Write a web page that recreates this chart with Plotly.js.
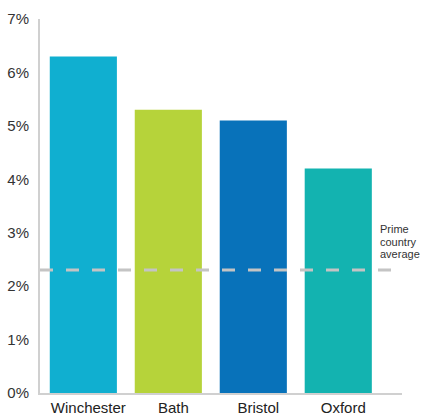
<!DOCTYPE html>
<html><head><meta charset="utf-8">
<script src="https://cdn.plot.ly/plotly-3.0.1.min.js"></script>
<style>html,body{margin:0;padding:0;background:#fff;}#chart{width:423px;height:415px;}</style>
</head><body><div id="chart"></div>
<script>
const cities = ["Winchester", "Bath", "Bristol", "Oxford"];
const growth = [6.3, 5.3, 5.1, 4.2];
const barColors = ["#10AFD0", "#B6D33A", "#0872BA", "#13B3B0"];
const primeAverage = 2.3;
const averageLabel = ["Prime", "country", "average"];
const yTicks = [0, 1, 2, 3, 4, 5, 6, 7];
const yTickText = yTicks.map(v => v + "%");

const trace = {
  type: "bar", x: cities, y: growth,
  marker: {color: barColors},
  hoverinfo: "x+y"
};

const labelAnns = averageLabel.map((t, i) => ({
  text: t, xref: "paper", yref: "y", x: 0.934, y: primeAverage,
  xanchor: "left", yanchor: "bottom", showarrow: false,
  yshift: 8 + (averageLabel.length - 1 - i) * 12.4,
  font: {family: "Liberation Sans, Arial, sans-serif", size: 11, color: "#333"},
  align: "left"
}));

const layout = {
  width: 423, height: 415,
  margin: {l: 40, r: 21, t: 19, b: 22},
  paper_bgcolor: "#fff", plot_bgcolor: "#fff",
  font: {family: "Liberation Sans, Arial, sans-serif", color: "#333"},
  showlegend: false,
  bargap: 0.21,
  xaxis: {
    range: [-0.51, 3.75], showgrid: false, zeroline: false,
    showline: true, linecolor: "#d0d0d0", linewidth: 2,
    ticks: "", ticklabelshift: 5,
    tickfont: {size: 15, color: "#222"}, fixedrange: true
  },
  yaxis: {
    range: [0, 7], tickvals: yTicks, ticktext: yTickText,
    showgrid: false, zeroline: false,
    showline: true, linecolor: "#d0d0d0", linewidth: 2,
    ticks: "outside", ticklen: 6, tickcolor: "rgba(0,0,0,0)",
    tickfont: {size: 15, color: "#333"}, fixedrange: true
  },
  shapes: [{
    type: "line", xref: "paper", yref: "y",
    x0: 0, x1: 0.97, y0: primeAverage, y1: primeAverage,
    line: {color: "#c4c4c4", width: 3, dash: "13px,13px"}
  }],
  annotations: labelAnns
};

Plotly.newPlot("chart", [trace], layout, {displayModeBar: false, staticPlot: true});
</script></body></html>
